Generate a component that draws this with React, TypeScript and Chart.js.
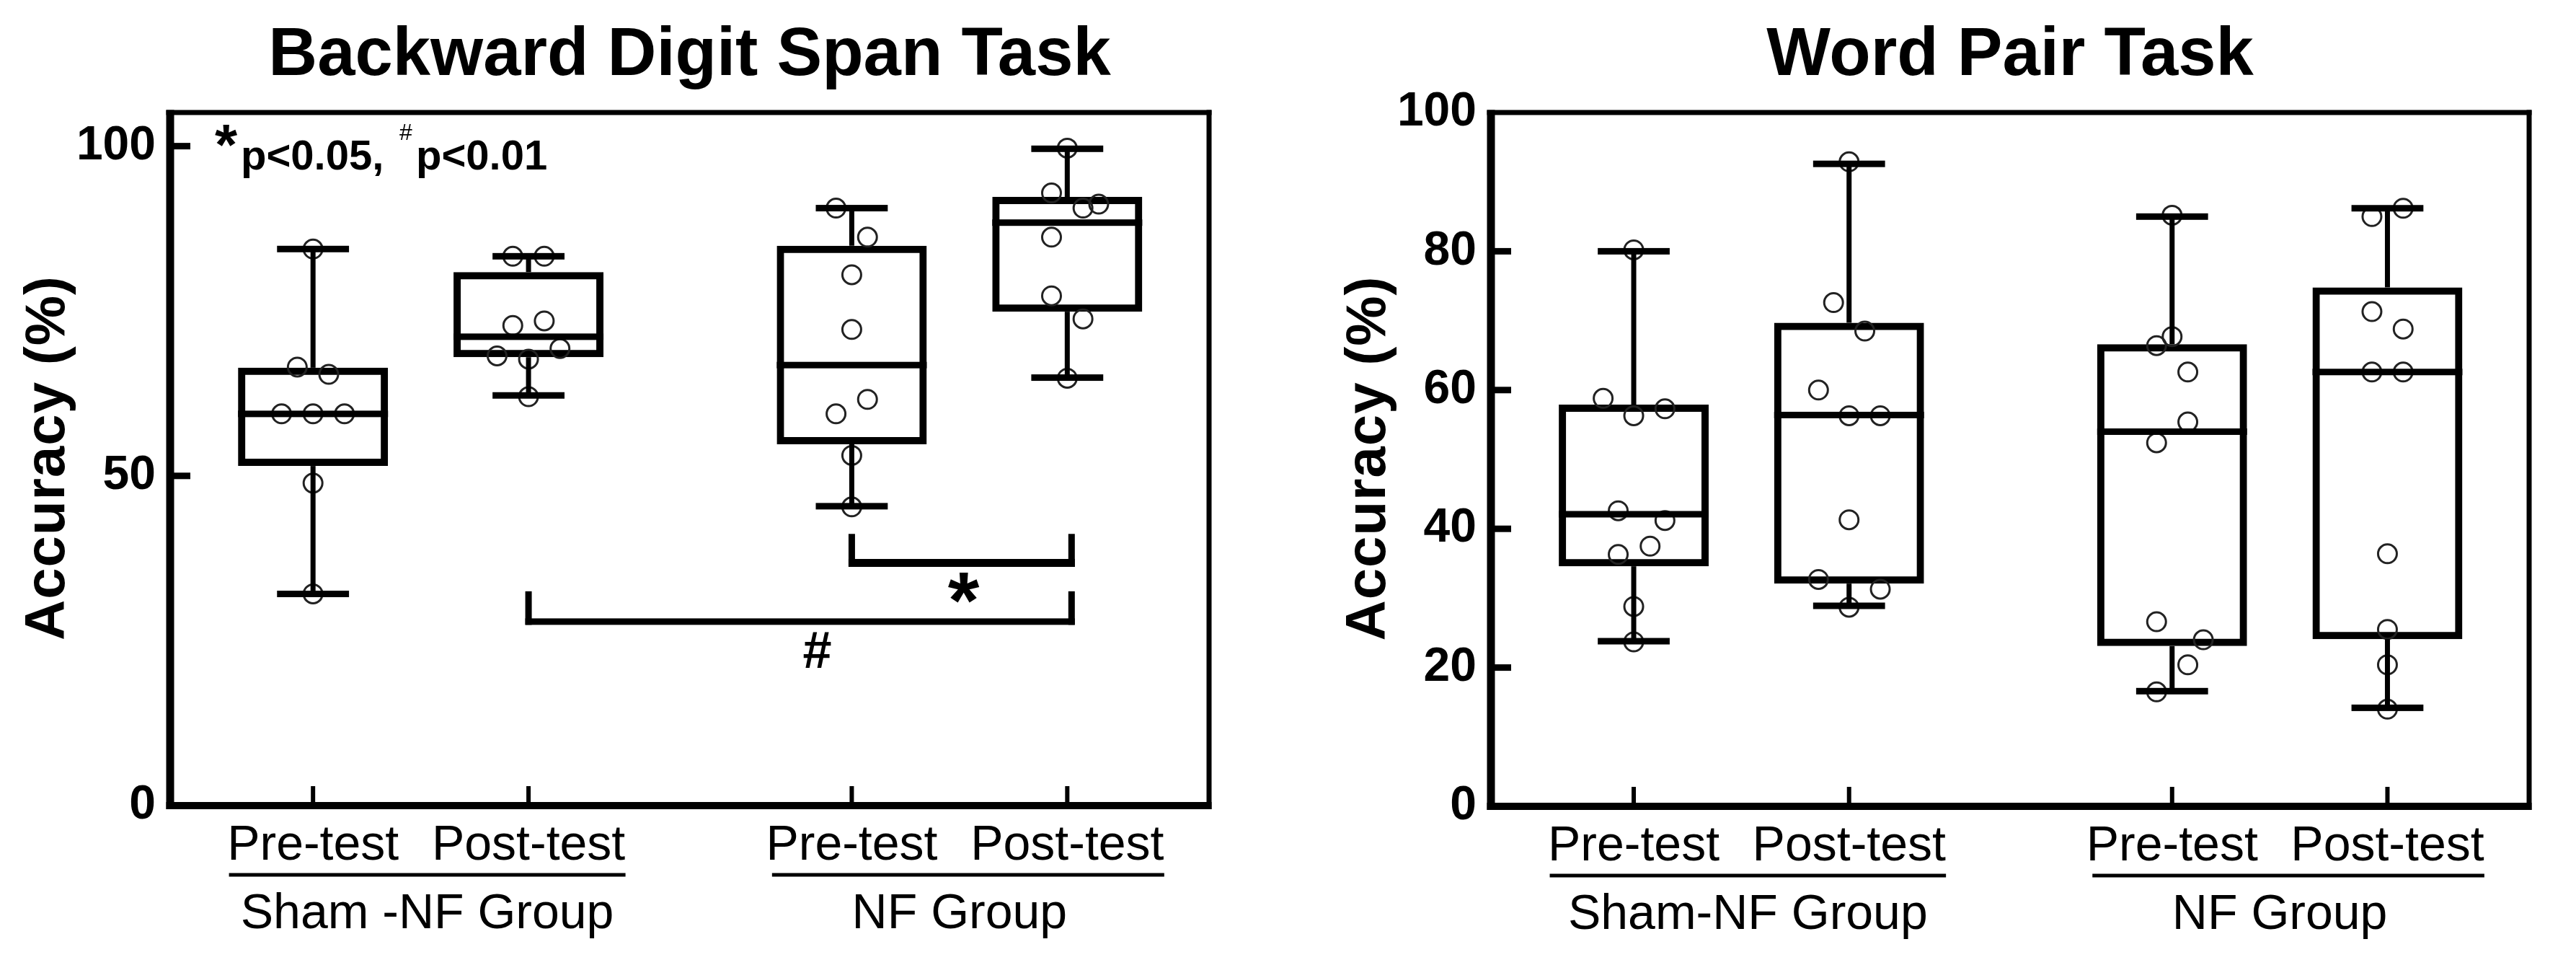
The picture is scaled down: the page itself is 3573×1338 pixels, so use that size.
import { useEffect, useRef } from 'react';
import { Chart, registerables } from 'chart.js';

Chart.register(...registerables);

const FONT = '"Liberation Sans", Arial, Helvetica, sans-serif';

// ---------- shared categories ----------
const conditionLabels = ['Pre-test', 'Post-test', 'Pre-test', 'Post-test'];
const conditionX = [1, 2, 3.5, 4.5];
const groupSpans = [[0.61, 2.45], [3.13, 4.95]];
const groupCenters = [1.53, 4.0];

// ---------- Backward Digit Span Task ----------
const bdsTitle = 'Backward Digit Span Task';
const bdsGroupLabels = ['Sham -NF Group', 'NF Group'];
const bdsYMax = 105.1;
const bdsYTicks = [0, 50, 100];

const bdsShamPre = [84.4, 66.5, 65.4, 59.4, 59.4, 59.4, 48.9, 32.1];
const bdsShamPreJitter = [0, -0.073, 0.073, -0.146, 0, 0.146, 0, 0];
const bdsShamPost = [83.3, 83.3, 73.5, 72.8, 69.3, 68.2, 67.7, 62.0];
const bdsShamPostJitter = [-0.073, 0.073, 0.073, -0.073, 0.146, -0.146, 0, 0];
const bdsNfPre = [90.6, 86.2, 80.5, 72.2, 61.6, 59.4, 53.1, 45.3];
const bdsNfPreJitter = [-0.073, 0.073, 0, 0, 0.073, -0.073, 0, 0];
const bdsNfPost = [99.7, 92.9, 91.2, 90.6, 86.2, 77.3, 73.8, 64.8];
const bdsNfPostJitter = [0, -0.073, 0.146, 0.073, -0.073, -0.073, 0.073, 0];

const bdsMin = [32.1, 62.2, 45.4, 64.9];
const bdsQ1 = [51.5, 68.0, 54.8, 74.9];
const bdsMedian = [59.4, 71.1, 66.8, 88.4];
const bdsQ3 = [66.4, 80.9, 84.9, 92.3];
const bdsMax = [84.4, 83.3, 90.6, 99.6];

const bracketFrom = [3.5, 2.0];
const bracketTo = [4.52, 4.52];
const bracketTop = [41.2, 32.5];
const bracketBar = [36.8, 27.9];
const bracketMark = ['*', '#'];
const bracketMarkX = [4.02, 3.34];
const bracketMarkY = [33.0, 23.6];

// ---------- Word Pair Task ----------
const wpTitle = 'Word Pair Task';
const wpGroupLabels = ['Sham-NF Group', 'NF Group'];
const wpYMax = 100;
const wpYTicks = [0, 20, 40, 60, 80, 100];

const wpShamPre = [80.2, 58.8, 57.3, 56.3, 42.6, 41.2, 37.5, 36.3, 28.8, 23.7];
const wpShamPreJitter = [0, -0.142, 0.145, 0, -0.072, 0.145, 0.076, -0.072, 0, 0];
const wpShamPost = [92.9, 72.6, 68.5, 60.0, 56.3, 56.3, 41.3, 32.7, 31.3, 28.7];
const wpShamPostJitter = [0, -0.072, 0.073, -0.142, 0, 0.145, 0, -0.142, 0.145, 0];
const wpNfPre = [85.2, 67.7, 66.4, 62.6, 55.4, 52.4, 26.6, 24.0, 20.4, 16.5];
const wpNfPreJitter = [0, 0, -0.072, 0.073, 0.073, -0.072, -0.072, 0.145, 0.073, -0.072];
const wpNfPost = [86.2, 85.0, 71.3, 68.8, 62.6, 62.6, 36.4, 25.5, 20.4, 14.0];
const wpNfPostJitter = [0.073, -0.072, -0.072, 0.073, -0.072, 0.073, 0, 0, 0, 0];

const wpMin = [23.8, 28.9, 16.6, 14.2];
const wpQ1 = [34.6, 32.1, 23.1, 24.1];
const wpMedian = [42.1, 56.4, 54.0, 62.6];
const wpQ3 = [57.9, 69.7, 66.6, 74.8];
const wpMax = [80.0, 92.6, 85.0, 86.2];

// ---------- layout constants ----------
const X_MIN = 0.337;
const X_MAX = 5.158;
const BOX_FRACTION = 0.696; // outer box width in x units
const CAP_HALF = 0.167;

type Spec = {
  title: string;
  groupLabels: string[];
  yMax: number;
  yTicks: number[];
  points: number[][];
  jitter: number[][];
  min: number[];
  q1: number[];
  median: number[];
  q3: number[];
  max: number[];
  brackets: boolean;
  note: boolean;
  yAxisWidth: number;
  xAxisHeight: number;
  padRight: number;
};

const bdsSpec: Spec = {
  title: bdsTitle,
  groupLabels: bdsGroupLabels,
  yMax: bdsYMax,
  yTicks: bdsYTicks,
  points: [bdsShamPre, bdsShamPost, bdsNfPre, bdsNfPost],
  jitter: [bdsShamPreJitter, bdsShamPostJitter, bdsNfPreJitter, bdsNfPostJitter],
  min: bdsMin,
  q1: bdsQ1,
  median: bdsMedian,
  q3: bdsQ3,
  max: bdsMax,
  brackets: true,
  note: true,
  yAxisWidth: 236,
  xAxisHeight: 221,
  padRight: 109,
};

const wpSpec: Spec = {
  title: wpTitle,
  groupLabels: wpGroupLabels,
  yMax: wpYMax,
  yTicks: wpYTicks,
  points: [wpShamPre, wpShamPost, wpNfPre, wpNfPost],
  jitter: [wpShamPreJitter, wpShamPostJitter, wpNfPreJitter, wpNfPostJitter],
  min: wpMin,
  q1: wpQ1,
  median: wpMedian,
  q3: wpQ3,
  max: wpMax,
  brackets: false,
  note: false,
  yAxisWidth: 282,
  xAxisHeight: 220,
  padRight: 65,
};

function hLine(ctx: CanvasRenderingContext2D, x1: number, x2: number, y: number, w: number) {
  ctx.fillRect(Math.min(x1, x2), y - w / 2, Math.abs(x2 - x1), w);
}
function vLine(ctx: CanvasRenderingContext2D, x: number, y1: number, y2: number, w: number) {
  ctx.fillRect(x - w / 2, Math.min(y1, y2), w, Math.abs(y2 - y1));
}

function centerGlyph(ctx: CanvasRenderingContext2D, str: string, cx: number, cy: number, font: string) {
  ctx.font = font;
  ctx.textAlign = 'left';
  ctx.textBaseline = 'alphabetic';
  const m = ctx.measureText(str);
  const w = m.actualBoundingBoxLeft + m.actualBoundingBoxRight;
  ctx.fillText(
    str,
    cx - w / 2 + m.actualBoundingBoxLeft,
    cy + (m.actualBoundingBoxAscent - m.actualBoundingBoxDescent) / 2
  );
}

function textAt(
  ctx: CanvasRenderingContext2D,
  str: string,
  x: number,
  y: number,
  font: string,
  align: CanvasTextAlign = 'center'
) {
  ctx.font = font;
  ctx.textAlign = align;
  ctx.textBaseline = 'alphabetic';
  ctx.fillText(str, x, y);
}

function makeDecor(spec: Spec) {
  return {
    id: 'boxDecor',
    afterDatasetsDraw(chart: any) {
      const { ctx, chartArea: ca } = chart;
      const x = chart.scales.x;
      const y = chart.scales.y;
      ctx.save();
      ctx.fillStyle = '#000';
      conditionX.forEach((cx: number, i: number) => {
        const px = x.getPixelForValue(cx);
        const yMaxP = y.getPixelForValue(spec.max[i]);
        const yMinP = y.getPixelForValue(spec.min[i]);
        const yQ1 = y.getPixelForValue(spec.q1[i]);
        const yQ3 = y.getPixelForValue(spec.q3[i]);
        const yMed = y.getPixelForValue(spec.median[i]);
        vLine(ctx, px, yQ3, yMaxP, 7);
        vLine(ctx, px, yQ1, yMinP, 7);
        const capHalf = x.getPixelForValue(cx + CAP_HALF) - px;
        hLine(ctx, px - capHalf, px + capHalf, yMaxP, 9);
        hLine(ctx, px - capHalf, px + capHalf, yMinP, 9);
        const boxHalf = x.getPixelForValue(cx + BOX_FRACTION / 2) - px;
        hLine(ctx, px - boxHalf, px + boxHalf, yMed, 9);
      });

      // frame
      const L = ca.left, R = ca.right, T = ca.top, B = ca.bottom;
      ctx.fillRect(L - 5.5, T - 3.5, 11, B - T + 8.5);
      ctx.fillRect(L - 5.5, B - 5, R - L + 9, 10);
      ctx.fillRect(L - 5.5, T - 3.5, R - L + 9, 7);
      ctx.fillRect(R - 3.5, T - 3.5, 7, B - T + 8.5);

      // y ticks (inside)
      spec.yTicks.forEach((v) => {
        if (v <= 0 || v >= spec.yMax) return;
        const py = y.getPixelForValue(v);
        ctx.fillRect(L, py - 4.5, 28, 9);
      });
      // x ticks (inside)
      conditionX.forEach((cx) => {
        const px = x.getPixelForValue(cx);
        ctx.fillRect(px - 3, B - 27, 6, 24);
      });

      // significance brackets
      if (spec.brackets) {
        bracketFrom.forEach((from, i) => {
          const x1 = x.getPixelForValue(from);
          const x2 = x.getPixelForValue(bracketTo[i]);
          const yt = y.getPixelForValue(bracketTop[i]);
          const yb = y.getPixelForValue(bracketBar[i]);
          const hw = i === 0 ? 11 : 9;
          vLine(ctx, x1, yt, yb + hw / 2, 9);
          vLine(ctx, x2, yt, yb + hw / 2, 9);
          hLine(ctx, x1 - 4.5, x2 + 4.5, yb, hw);
          const mx = x.getPixelForValue(bracketMarkX[i]);
          const my = y.getPixelForValue(bracketMarkY[i]);
          const font = bracketMark[i] === '*' ? `bold 112px ${FONT}` : `bold 72px ${FONT}`;
          centerGlyph(ctx, bracketMark[i], mx, my, font);
        });
      }
      ctx.restore();
    },
    afterDraw(chart: any) {
      const { ctx, chartArea: ca } = chart;
      const x = chart.scales.x;
      ctx.save();
      ctx.fillStyle = '#000';
      // title
      textAt(ctx, spec.title, (ca.left + ca.right) / 2, 104, `bold 94px ${FONT}`);
      // y axis title
      ctx.save();
      ctx.translate(ca.left - 168, (ca.top + ca.bottom) / 2);
      ctx.rotate(-Math.PI / 2);
      (ctx as any).letterSpacing = '1px';
      centerGlyph(ctx, 'Accuracy (%)', 0, 0, `bold 78px ${FONT}`);
      ctx.restore();
      // condition labels
      conditionX.forEach((cx, i) => {
        textAt(ctx, conditionLabels[i], x.getPixelForValue(cx), ca.bottom + 75, `68px ${FONT}`);
      });
      // group lines and labels
      groupSpans.forEach((span, i) => {
        const x1 = x.getPixelForValue(span[0]);
        const x2 = x.getPixelForValue(span[1]);
        hLine(ctx, x1, x2, ca.bottom + 96, 5);
        textAt(ctx, spec.groupLabels[i], x.getPixelForValue(groupCenters[i]), ca.bottom + 170, `68px ${FONT}`);
      });
      // p-value note
      if (spec.note) {
        centerGlyph(ctx, '*', ca.left + 78, 188, `bold 80px ${FONT}`);
        textAt(ctx, 'p<0.05,', ca.left + 98, 235, `bold 58px ${FONT}`, 'left');
        centerGlyph(ctx, '#', ca.left + 327, 183, `32px ${FONT}`);
        textAt(ctx, 'p<0.01', ca.left + 341, 235, `bold 58px ${FONT}`, 'left');
      }
      ctx.restore();
    },
  };
}

function buildConfig(spec: Spec): any {
  const boxes = conditionX.map((cx, i) => ({ x: cx, y: [spec.q1[i], spec.q3[i]] }));
  const pts: { x: number; y: number }[] = [];
  spec.points.forEach((arr, i) => {
    arr.forEach((v, j) => pts.push({ x: conditionX[i] + spec.jitter[i][j], y: v }));
  });
  return {
    type: 'bar',
    data: {
      datasets: [
        {
          type: 'bar',
          data: boxes,
          backgroundColor: 'rgba(0,0,0,0)',
          borderColor: '#000',
          borderWidth: 10,
          borderSkipped: false,
          barPercentage: BOX_FRACTION,
          categoryPercentage: 1,
          order: 2,
        },
        {
          type: 'scatter',
          data: pts,
          showLine: false,
          pointRadius: 13,
          pointBorderWidth: 3,
          borderColor: '#222',
          pointBorderColor: '#222',
          backgroundColor: 'rgba(0,0,0,0)',
          pointBackgroundColor: 'rgba(0,0,0,0)',
          order: 1,
        },
      ],
    },
    options: {
      responsive: false,
      animation: false,
      events: [],
      layout: { padding: { top: 156, right: spec.padRight, bottom: 0, left: 0 } },
      plugins: {
        legend: { display: false },
        tooltip: { enabled: false },
        title: { display: false },
      },
      scales: {
        x: {
          type: 'linear',
          min: X_MIN,
          max: X_MAX,
          offset: false,
          grid: { display: false, drawTicks: false },
          border: { display: false },
          ticks: { display: false },
          afterBuildTicks: (s: any) => {
            s.ticks = conditionX.map((v) => ({ value: v }));
          },
          afterFit: (s: any) => {
            s.height = spec.xAxisHeight;
          },
        },
        y: {
          type: 'linear',
          min: 0,
          max: spec.yMax,
          grid: { display: false, drawTicks: false },
          border: { display: false },
          ticks: {
            color: '#000',
            padding: 20,
            font: { family: FONT, size: 66, weight: 'bold' },
          },
          afterBuildTicks: (s: any) => {
            s.ticks = spec.yTicks.map((v) => ({ value: v }));
          },
          afterFit: (s: any) => {
            s.width = spec.yAxisWidth;
          },
        },
      },
    },
    plugins: [makeDecor(spec)],
  };
}

function Panel({ spec, left, width }: { spec: Spec; left: number; width: number }) {
  const ref = useRef<HTMLCanvasElement>(null);
  useEffect(() => {
    if (!ref.current) return;
    const chart = new Chart(ref.current, buildConfig(spec));
    return () => chart.destroy();
  }, [spec]);
  return (
    <canvas
      ref={ref}
      width={width}
      height={1338}
      style={{ position: 'absolute', left, top: 0, width, height: 1338 }}
    />
  );
}

export default function App() {
  return (
    <div
      style={{
        position: 'absolute',
        left: 0,
        top: 0,
        width: 3573,
        height: 1338,
        background: '#fff',
        overflow: 'hidden',
      }}
    >
      <Panel spec={bdsSpec} left={0} width={1786} />
      <Panel spec={wpSpec} left={1786} width={1787} />
    </div>
  );
}
